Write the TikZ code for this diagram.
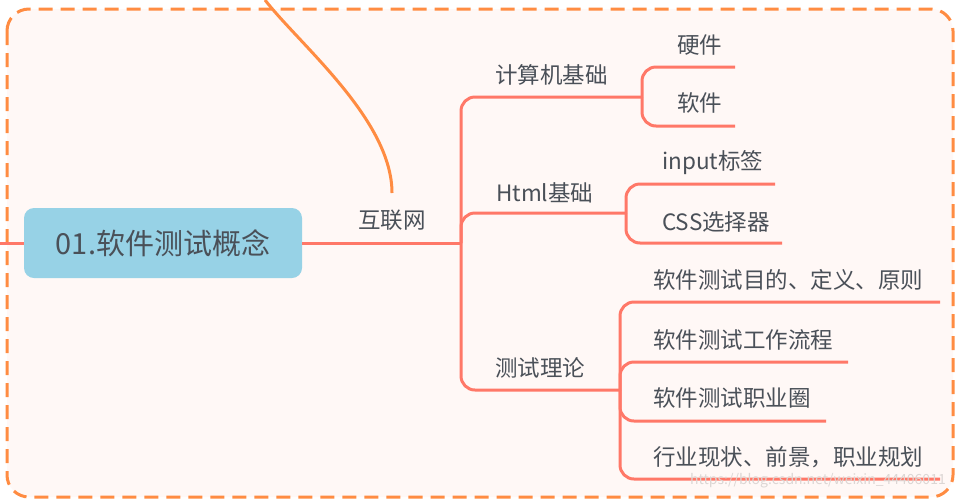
\documentclass[tikz,border=0pt]{standalone}
\usepackage{fontspec}
\newfontfamily\cjk{Noto Sans CJK SC}
\usetikzlibrary{positioning}
\definecolor{frameorange}{HTML}{FF8C42}
\definecolor{areapink}{HTML}{FFF8F6}
\definecolor{branchred}{HTML}{FF7868}
\definecolor{rootblue}{HTML}{97D2E6}
\definecolor{labelgray}{HTML}{4A5058}
\definecolor{markgray}{HTML}{DCD6D4}

\begin{document}
\begin{tikzpicture}[
  x=1pt, y=-1pt,
  every node/.style={font=\cjk\fontsize{22.5}{26}\selectfont, text=labelgray, inner sep=0pt, anchor=west},
  branch/.style={draw=branchred, line width=3pt, rounded corners=14pt},
  rootbox/.style={fill=rootblue, rounded corners=10pt, minimum width=278pt, minimum height=70pt, anchor=center, font=\cjk\fontsize{29}{34}\selectfont},
  relation/.style={draw=frameorange, line width=3pt}
]
\useasboundingbox (0,0) rectangle (968,499);
\fill[white] (0,0) rectangle (968,499);
\draw[frameorange, fill=areapink, line width=3pt, dash pattern=on 14pt off 8pt, rounded corners=22pt] (7,9) rectangle (953,497);

\node[rootbox] (root) at (163,243) {01.软件测试概念};
\node (web) at (358,220) {互联网};
\coordinate (stub) at (0,243);
\coordinate (hub) at (461,243);
\coordinate (relstart) at (265,0);
\coordinate (relend) at (392,193);

\node (comp) at (495,75) {计算机基础};
\node (html) at (496,193) {Html基础};
\node (theory) at (495,368) {测试理论};
\coordinate (forkA) at (642,97);
\coordinate (forkB) at (626,213);
\coordinate (forkC) at (620,390);

\node (hw) at (677,45) {硬件};
\node (sw) at (677,103) {软件};
\node (inp) at (662,163) {input标签};
\node (css) at (662,222) {CSS选择器};
\node (aim) at (653,280) {软件测试目的、定义、原则};
\node (flow) at (653,340) {软件测试工作流程};
\node (career) at (653,398) {软件测试职业圈};
\node (trend) at (653,457) {行业现状、前景，职业规划};
\coordinate (hwend) at (735,67);
\coordinate (swend) at (735,126);
\coordinate (inpend) at (775,184);
\coordinate (cssend) at (782,243);
\coordinate (aimend) at (940,302);
\coordinate (flowend) at (848,362);
\coordinate (careerend) at (826,421);
\coordinate (trendend) at (940,479);

\draw[relation] (relstart) .. controls (300,45) and (392,120) .. (relend);
\draw[branch] (stub) -- (root.west);
\draw[branch] (root.east) -- (hub);
\draw[branch] (hub) |- (forkA);
\draw[branch] (hub) |- (forkB);
\draw[branch] (hub) |- (forkC);
\draw[branch] (forkA) |- (hwend);
\draw[branch] (forkA) |- (swend);
\draw[branch] (forkB) |- (inpend);
\draw[branch] (forkB) |- (cssend);
\draw[branch] (forkC) |- (aimend);
\draw[branch] (forkC) |- (flowend);
\draw[branch] (forkC) |- (careerend);
\draw[branch] (forkC) |- (trendend);

\node[font=\cjk\fontsize{14}{17}\selectfont, text=markgray, anchor=center] (mark) at (818,481) {https://blog.csdn.net/weixin\_44406011};
\end{tikzpicture}
\end{document}
